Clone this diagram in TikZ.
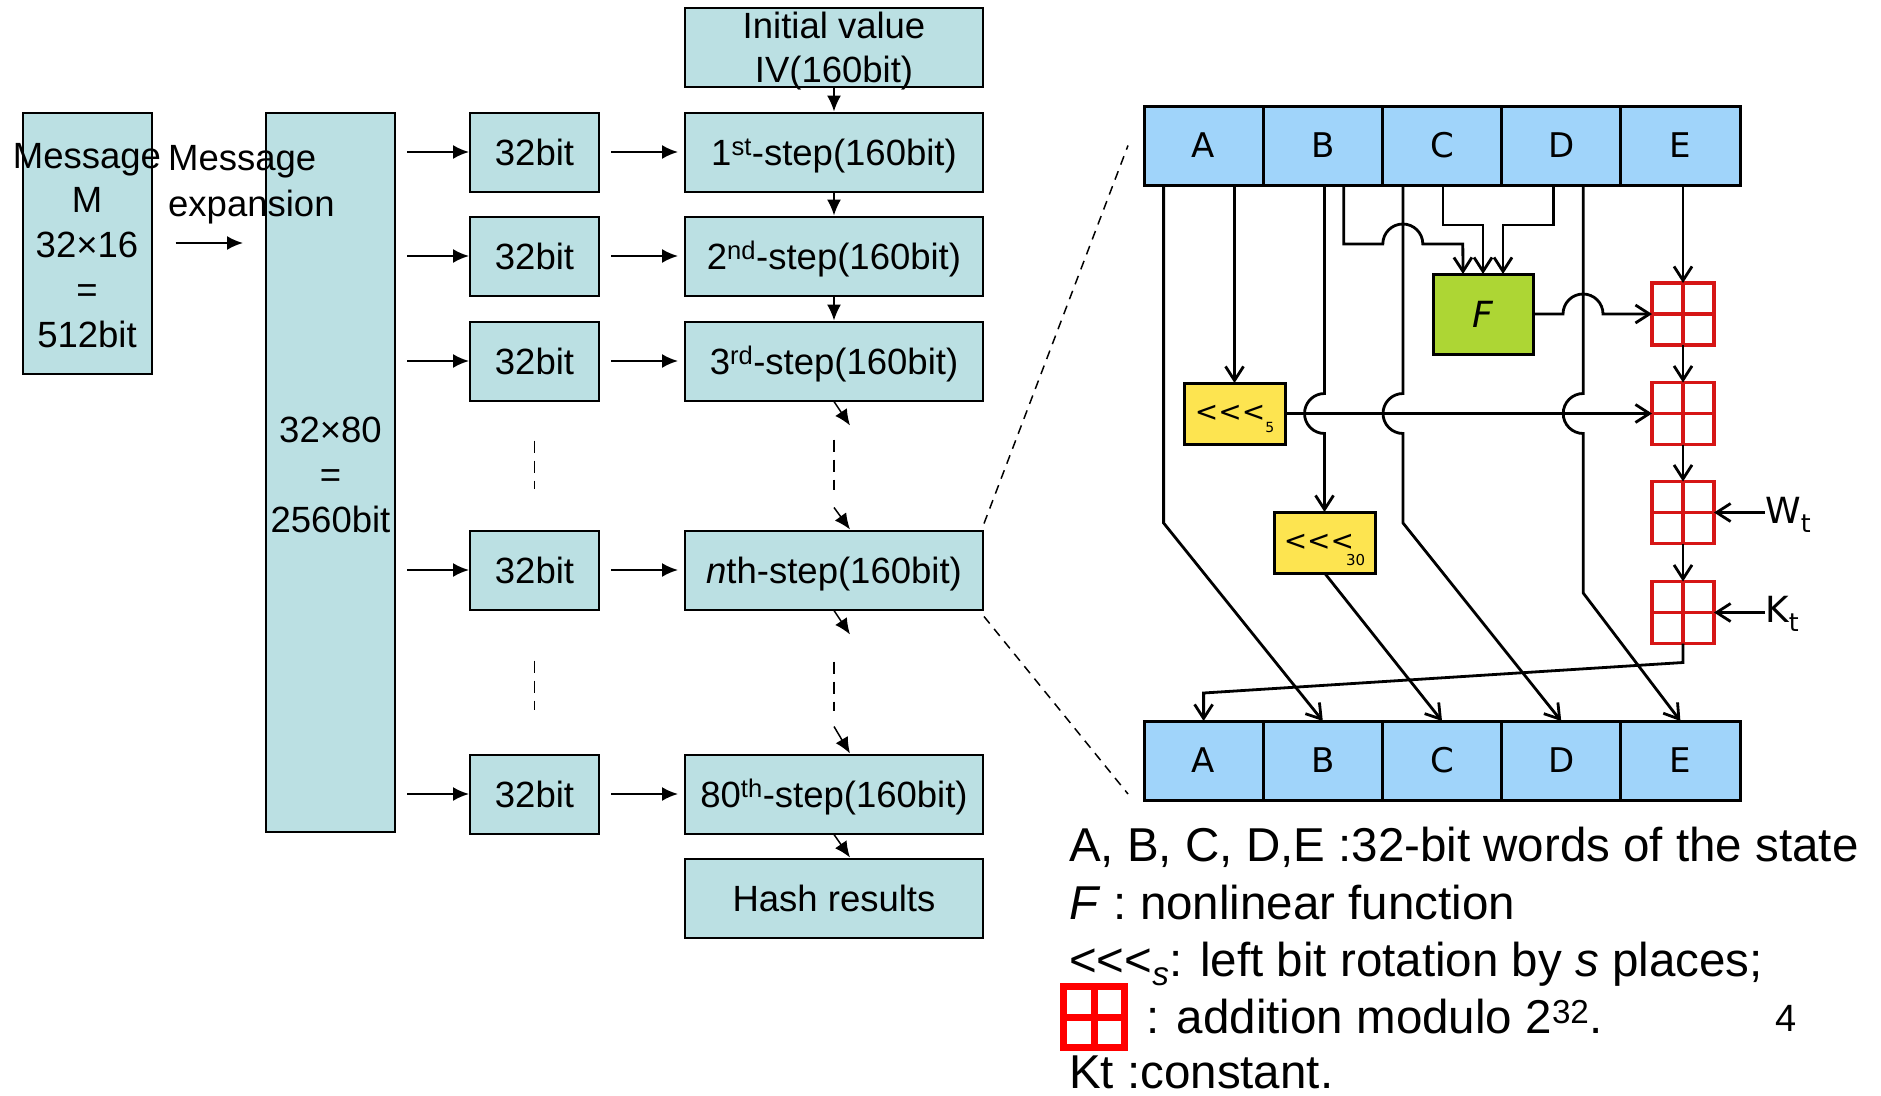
\documentclass[tikz,border=0pt]{standalone}
\usepackage{fontspec}
\setmainfont{Liberation Sans}
\newfontfamily\verafont{DejaVu Sans}
\usepackage{xcolor}
\usepackage{tikz}
\usetikzlibrary{arrows.meta,positioning}
\definecolor{stepteal}{RGB}{187,224,227}
\definecolor{wordblue}{RGB}{160,212,250}
\definecolor{fungreen}{RGB}{173,214,52}
\definecolor{rotyellow}{RGB}{253,228,80}
\definecolor{addred}{RGB}{214,22,22}

\begin{document}
\begin{tikzpicture}[x=1pt,y=-1pt,>={Latex[length=16pt,width=14pt]},
    tealbox/.style={draw, line width=2pt, fill=stepteal, inner sep=0pt, align=center,
      font=\fontsize{36.5}{44.8}\selectfont},
    stepbox/.style={tealbox, minimum width=298pt, minimum height=79pt, text height=26pt, text depth=0pt},
    bitbox/.style={tealbox, minimum width=129pt, minimum height=79pt, text height=26pt, text depth=0pt},
    boxtext/.style={inner sep=0pt, align=center, font=\fontsize{36.5}{44.8}\selectfont},
    wordcell/.style={draw, line width=3pt, fill=wordblue, inner sep=0pt, outer sep=0pt,
      minimum width=119.2pt, minimum height=79pt, font=\verafont\fontsize{34}{40}\selectfont},
    rotbox/.style={draw, line width=3pt, fill=rotyellow, inner sep=0pt, outer sep=0pt,
      minimum width=101pt, minimum height=61pt, font=\verafont\fontsize{28}{32}\selectfont},
    adder/.style={draw=addred, line width=3.5pt, inner sep=0pt, outer sep=0pt, minimum size=62pt,
      path picture={\draw[addred, line width=3.5pt]
        (path picture bounding box.north) -- (path picture bounding box.south)
        (path picture bounding box.west) -- (path picture bounding box.east);}},
    keyadder/.style={adder, draw=red, line width=7pt, minimum size=61pt,
      path picture={\draw[red, line width=7pt]
        (path picture bounding box.north) -- (path picture bounding box.south)
        (path picture bounding box.west) -- (path picture bounding box.east);}},
    wire/.style={line width=2.8pt, -{Straight Barb[length=14pt,width=18pt]}},
    flowarrow/.style={->, line width=2pt},
    gapline/.style={line width=1.8pt, dash pattern=on 12pt off 8pt},
    zoomline/.style={line width=1.5pt, dash pattern=on 9pt off 7pt},
    subtext/.style={anchor=base west, inner sep=0pt, font=\verafont\fontsize{36}{40}\selectfont},
    keytext/.style={anchor=base west, inner sep=0pt, font=\fontsize{47.5}{56}\selectfont}]
  \useasboundingbox (0,0) rectangle (1881,1095);

  % message and its expansion
  \node (msg) [tealbox, minimum width=129pt, minimum height=261pt] at (87,243) {};
  \node (msgtext) [boxtext, yshift=-2.4pt] at (msg) {Message\\M\\32×16\\=\\512bit};
  \node (big) [tealbox, minimum width=129pt, minimum height=719pt] at (330.5,472.5) {};
  \node (bigtext) [boxtext, yshift=-2.4pt] at (big) {32×80\\=\\2560bit};
  \node (exptext) [boxtext, anchor=west, align=left, font=\fontsize{36.5}{46}\selectfont] at (168,185) {Message\\expansion};
  \draw[flowarrow, shorten <=23pt, shorten >=22pt] (msg.east) -- (msg.east -| big.west);

  % steps
  \node (iv) [tealbox, minimum width=298pt, minimum height=79pt] at (834,47) {};
  \node (ivtext) [boxtext, yshift=-4pt] at (iv) {Initial value\\IV(160bit)};
  \node (s1) [stepbox] at (834,152) {1\textsuperscript{st}-step(160bit)};
  \node (s2) [stepbox] at (834,256) {2\textsuperscript{nd}-step(160bit)};
  \node (s3) [stepbox] at (834,361) {3\textsuperscript{rd}-step(160bit)};
  \node (sn) [stepbox] at (834,570) {\textit{n}th-step(160bit)};
  \node (s80) [stepbox] at (834,794) {80\textsuperscript{th}-step(160bit)};
  \node (hash) [stepbox] at (834,898) {Hash results};
  \node (b1) [bitbox, left=84pt of s1] {32bit};
  \node (b2) [bitbox, left=84pt of s2] {32bit};
  \node (b3) [bitbox, left=84pt of s3] {32bit};
  \node (bn) [bitbox, left=84pt of sn] {32bit};
  \node (b80) [bitbox, left=84pt of s80] {32bit};

  \draw[flowarrow, shorten <=11pt] (big.east |- b1) -- (b1.west);
  \draw[flowarrow, shorten <=11pt] (big.east |- b2) -- (b2.west);
  \draw[flowarrow, shorten <=11pt] (big.east |- b3) -- (b3.west);
  \draw[flowarrow, shorten <=11pt] (big.east |- bn) -- (bn.west);
  \draw[flowarrow, shorten <=11pt] (big.east |- b80) -- (b80.west);
  \draw[flowarrow, shorten <=11pt, shorten >=6pt] (b1) -- (s1);
  \draw[flowarrow, shorten <=11pt, shorten >=6pt] (b2) -- (s2);
  \draw[flowarrow, shorten <=11pt, shorten >=6pt] (b3) -- (s3);
  \draw[flowarrow, shorten <=11pt, shorten >=6pt] (bn) -- (sn);
  \draw[flowarrow, shorten <=11pt, shorten >=6pt] (b80) -- (s80);

  \draw[flowarrow, line width=1.5pt] (iv) -- (s1);
  \draw[flowarrow, line width=1.5pt] (s1) -- (s2);
  \draw[flowarrow, line width=1.5pt] (s2) -- (s3);
  \draw[flowarrow, line width=1.5pt] (s3.south) -- ++(16,24);
  \draw[gapline] ([yshift=-38pt]s3.south) -- ([yshift=40pt]sn.north);
  \draw[flowarrow, line width=1.5pt] ([yshift=22pt]sn.north) -- ([xshift=16pt]sn.north);
  \draw[flowarrow, line width=1.5pt] (sn.south) -- ++(16,24);
  \draw[gapline] ([yshift=-51pt]sn.south) -- ([yshift=43pt]s80.north);
  \draw[flowarrow, line width=1.5pt] ([yshift=27pt]s80.north) -- ([xshift=16pt]s80.north);
  \draw[flowarrow, line width=1.5pt] (s80.south) -- ([xshift=16pt]hash.north);
  \draw[gapline] ([yshift=-39pt]b3.south) -- ([yshift=41pt]bn.north);
  \draw[gapline] ([yshift=-50pt]bn.south) -- ([yshift=44pt]b80.north);

  % SHA-1 round
  \node (tA) [wordcell] at (1203.6,145.5) {A};
  \node (tB) [wordcell, right=0pt of tA] {B};
  \node (tC) [wordcell, right=0pt of tB] {C};
  \node (tD) [wordcell, right=0pt of tC] {D};
  \node (tE) [wordcell, right=0pt of tD] {E};
  \node (bA) [wordcell] at (1203.6,760.5) {A};
  \node (bB) [wordcell, right=0pt of bA] {B};
  \node (bC) [wordcell, right=0pt of bB] {C};
  \node (bD) [wordcell, right=0pt of bC] {D};
  \node (bE) [wordcell, right=0pt of bD] {E};

  \draw[zoomline] ([yshift=6pt]sn.north east) -- ([xshift=-16pt]tA.west);
  \draw[zoomline] ([yshift=-6pt]sn.south east) -- ([xshift=-16pt,yshift=6pt]bA.south west);

  \node (fbox) [draw, line width=3pt, fill=fungreen, outer sep=0pt, minimum width=100pt, minimum height=80pt,
    font=\verafont\itshape\fontsize{36}{40}\selectfont] at (1483,314) {F};
  \node (rot5) [rotbox] at (1234.5,413.5) {<\kern0pt<\kern0pt<\raisebox{-11pt}[0pt][0pt]{\fontsize{14}{14}\selectfont 5}};
  \node (rot30) [rotbox] at (1324.5,542.5) {<\kern0pt<\kern0pt<\kern-8pt\raisebox{-15pt}[0pt][0pt]{\fontsize{15}{15}\selectfont 30}};
  \node (add1) [adder] at (1683,314) {};
  \node (add2) [adder] at (1683,413.5) {};
  \node (add3) [adder] at (1683,512.5) {};
  \node (add4) [adder] at (1683,612.5) {};
  \node (wt) [subtext] at (1765,523) {W\textsubscript{t}};
  \node (kt) [subtext] at (1765,622) {K\textsubscript{t}};

  \draw[wire] ([xshift=-40pt]tA.south) -- ++(0,338) -- (bB.north);
  \draw[wire] (tA.south -| rot5.north) -- (rot5.north);
  \draw[wire] (rot5.east) -- (add2.west);
  \draw[wire] (tB.south -| rot30.north) -- ++(0,208.5) arc[start angle=90, end angle=270, radius=20pt] -- (rot30.north);
  \draw[wire] (rot30.south) -- (bC.north);
  \draw[wire] ([xshift=21pt]tB.south) -- ++(0,59) -- ++(39,0) arc[start angle=180, end angle=0, radius=20pt] -- ++(40,0) -- ([xshift=-20pt]fbox.north);
  \draw[wire] ([xshift=-39pt]tC.south) -- ++(0,208.5) arc[start angle=90, end angle=270, radius=20pt] -- ++(0,89.5) -- (bD.north);
  \draw[wire] ([xshift=1pt]tC.south) -- ++(0,40) -| (fbox.north);
  \draw[wire] ([xshift=-8pt]tD.south) -- ++(0,40) -| ([xshift=20pt]fbox.north);
  \draw[wire] ([xshift=22pt]tD.south) -- ++(0,208.5) arc[start angle=90, end angle=270, radius=20pt] -- ++(0,159.5) -- (bE.north);
  \draw[wire] (fbox.east) -- ++(30,0) arc[start angle=180, end angle=0, radius=20pt] -- (add1.west);
  \draw[wire] (tE.south -| add1.north) -- (add1.north);
  \draw[wire] (add1.south) -- (add2.north);
  \draw[wire] (add2.south) -- (add3.north);
  \draw[wire] (add3.south) -- (add4.north);
  \draw[wire] (add3.east -| wt.west) -- (add3.east);
  \draw[wire] (add4.east -| kt.west) -- (add4.east);
  \draw[wire] (add4.south) -- ++(0,19) -- ([yshift=28pt]bA.north) -- (bA.north);

  % key
  \node (key1) [keytext] at (1069,861.5) {A, B, C, D,E :32-bit words of the state};
  \node (key2) [keytext] at (1069,919) {\textit{F} : nonlinear function};
  \node (key3) [keytext] at (1069,976.5) {<\kern0pt<\kern0pt<\textsubscript{\textit{s}}: left bit rotation by \textit{s} places;};
  \node (keyadd) [keyadder] at (1094,1017) {};
  \node (key4) [keytext] at (1146,1033) {: addition modulo 2\textsuperscript{32}.};
  \node (key5) [keytext] at (1069,1088) {Kt :constant.};
  \node (slidenum) [anchor=base west, inner sep=0pt, font=\fontsize{38}{40}\selectfont] at (1775,1031) {4};
\end{tikzpicture}
\end{document}
